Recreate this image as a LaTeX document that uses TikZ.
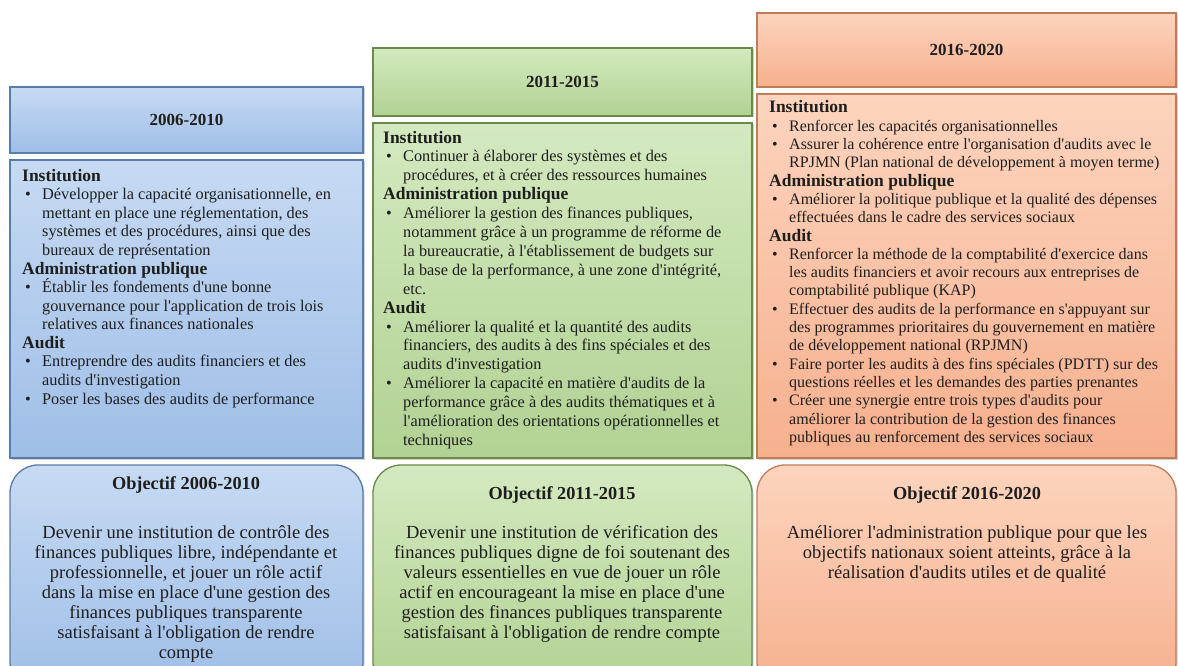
\documentclass[tikz,border=0pt]{standalone}
\usepackage{fontspec}
\setmainfont{Liberation Serif}[Ligatures=TeXOff]
\usetikzlibrary{shadows}
\definecolor{bTop}{HTML}{C6DAF3}
\definecolor{bBot}{HTML}{9FBEE7}
\definecolor{bLine}{HTML}{5A7CA8}
\definecolor{gTop}{HTML}{D4E9C0}
\definecolor{gBot}{HTML}{B2D293}
\definecolor{gLine}{HTML}{6A8A48}
\definecolor{oTop}{HTML}{FDD4BE}
\definecolor{oBot}{HTML}{F6B08E}
\definecolor{oLine}{HTML}{C27C58}
\definecolor{txt}{HTML}{1E1E1E}
\newcommand{\bul}{\hspace*{3pt}\makebox[17pt][l]{•}}
\newcommand{\ind}{\hspace*{20pt}}
\newcommand{\hd}[1]{{\fontsize{17.5}{19}\selectfont\bfseries #1}}
\tikzset{
  panel/.style={rectangle, inner sep=0pt, line width=1.3pt, text=txt,
    drop shadow={shadow xshift=1.5pt, shadow yshift=-1.5pt, opacity=0.35}},
  bluebox/.style={panel, draw=bLine, top color=bTop, bottom color=bBot},
  greenbox/.style={panel, draw=gLine, top color=gTop, bottom color=gBot},
  orangebox/.style={panel, draw=oLine, top color=oTop, bottom color=oBot},
  hfont/.style={font=\fontsize{17}{20}\selectfont\bfseries},
  ttl/.style={anchor=base, inner sep=0pt, text=txt, font=\fontsize{18.3}{20}\selectfont\bfseries},
  bodytxt/.style={anchor=base west, inner sep=0pt, text=txt},
  objtxt/.style={anchor=base, inner sep=0pt, text=txt},
}
\begin{document}
\begin{tikzpicture}[x=1pt,y=-1pt]
\useasboundingbox (0,0) rectangle (1178,666);
\clip (0,0) rectangle (1178,666);
\fill[white] (0,0) rectangle (1178,666);

% headers
\node[bluebox, hfont, minimum width=353pt, minimum height=66pt] (h1) at (186.5,120) {2006-2010};
\node[greenbox, hfont, minimum width=379pt, minimum height=68pt] (h2) at (562.5,82) {2011-2015};
\node[orangebox, hfont, minimum width=419pt, minimum height=74pt] (h3) at (966.5,50) {2016-2020};

% bodies
\node[bluebox, minimum width=353pt, minimum height=298pt] (b1) at (186.5,309) {};
\node[greenbox, minimum width=379pt, minimum height=335pt] (b2) at (562.5,290.5) {};
\node[orangebox, minimum width=419pt, minimum height=364pt] (b3) at (966.5,276) {};

% objectives
\node[bluebox, rounded corners=28pt, minimum width=353pt, minimum height=225pt] (o1) at (186.5,577.5) {};
\node[greenbox, rounded corners=28pt, minimum width=379pt, minimum height=225pt] (o2) at (562.5,577.5) {};
\node[orangebox, rounded corners=28pt, minimum width=419pt, minimum height=225pt] (o3) at (966.5,577.5) {};

% body texts
\node[bodytxt] (t1) at (22,181) {\begin{minipage}[t]{400pt}\fontsize{16.3}{18.6}\selectfont
\hd{Institution}\\
\bul Développer la capacité organisationnelle, en\\
\ind mettant en place une réglementation, des\\
\ind systèmes et des procédures, ainsi que des\\
\ind bureaux de représentation\\
\hd{Administration publique}\\
\bul Établir les fondements d'une bonne\\
\ind gouvernance pour l'application de trois lois\\
\ind relatives aux finances nationales\\
\hd{Audit}\\
\bul Entreprendre des audits financiers et des\\
\ind audits d'investigation\\
\bul Poser les bases des audits de performance
\end{minipage}};

\node[bodytxt] (t2) at (383,143) {\begin{minipage}[t]{400pt}\fontsize{16.3}{18.9}\selectfont
\hd{Institution}\\
\bul Continuer à élaborer des systèmes et des\\
\ind procédures, et à créer des ressources humaines\\
\hd{Administration publique}\\
\bul Améliorer la gestion des finances publiques,\\
\ind notamment grâce à un programme de réforme de\\
\ind la bureaucratie, à l'établissement de budgets sur\\
\ind la base de la performance, à une zone d'intégrité,\\
\ind etc.\\
\hd{Audit}\\
\bul Améliorer la qualité et la quantité des audits\\
\ind financiers, des audits à des fins spéciales et des\\
\ind audits d'investigation\\
\bul Améliorer la capacité en matière d'audits de la\\
\ind performance grâce à des audits thématiques et à\\
\ind l'amélioration des orientations opérationnelles et\\
\ind techniques
\end{minipage}};

\node[bodytxt] (t3) at (769,113) {\begin{minipage}[t]{440pt}\fontsize{16}{18.3}\selectfont
\hd{Institution}\\
\bul Renforcer les capacités organisationnelles\\
\bul Assurer la cohérence entre l'organisation d'audits avec le\\
\ind RPJMN (Plan national de développement à moyen terme)\\
\hd{Administration publique}\\
\bul Améliorer la politique publique et la qualité des dépenses\\
\ind effectuées dans le cadre des services sociaux\\
\hd{Audit}\\
\bul Renforcer la méthode de la comptabilité d'exercice dans\\
\ind les audits financiers et avoir recours aux entreprises de\\
\ind comptabilité publique (KAP)\\
\bul Effectuer des audits de la performance en s'appuyant sur\\
\ind des programmes prioritaires du gouvernement en matière\\
\ind de développement national (RPJMN)\\
\bul Faire porter les audits à des fins spéciales (PDTT) sur des\\
\ind questions réelles et les demandes des parties prenantes\\
\bul Créer une synergie entre trois types d'audits pour\\
\ind améliorer la contribution de la gestion des finances\\
\ind publiques au renforcement des services sociaux
\end{minipage}};

% objective texts
\node[ttl] (ot1) at (186,489) {Objectif 2006-2010};
\node[ttl] (ot2) at (562,499) {Objectif 2011-2015};
\node[ttl] (ot3) at (967,499) {Objectif 2016-2020};

\node[objtxt] (ob1) at (186,538) {\begin{minipage}[t]{380pt}\centering\fontsize{18.5}{20}\selectfont
Devenir une institution de contrôle des\\
finances publiques libre, indépendante et\\
professionnelle, et jouer un rôle actif\\
dans la mise en place d'une gestion des\\
finances publiques transparente\\
satisfaisant à l'obligation de rendre\\
compte
\end{minipage}};

\node[objtxt] (ob2) at (562,538) {\begin{minipage}[t]{420pt}\centering\fontsize{18.5}{20}\selectfont
Devenir une institution de vérification des\\
finances publiques digne de foi soutenant des\\
valeurs essentielles en vue de jouer un rôle\\
actif en encourageant la mise en place d'une\\
gestion des finances publiques transparente\\
satisfaisant à l'obligation de rendre compte
\end{minipage}};

\node[objtxt] (ob3) at (967,538) {\begin{minipage}[t]{440pt}\centering\fontsize{18.5}{20}\selectfont
Améliorer l'administration publique pour que les\\
objectifs nationaux soient atteints, grâce à la\\
réalisation d'audits utiles et de qualité
\end{minipage}};
\end{tikzpicture}
\end{document}
